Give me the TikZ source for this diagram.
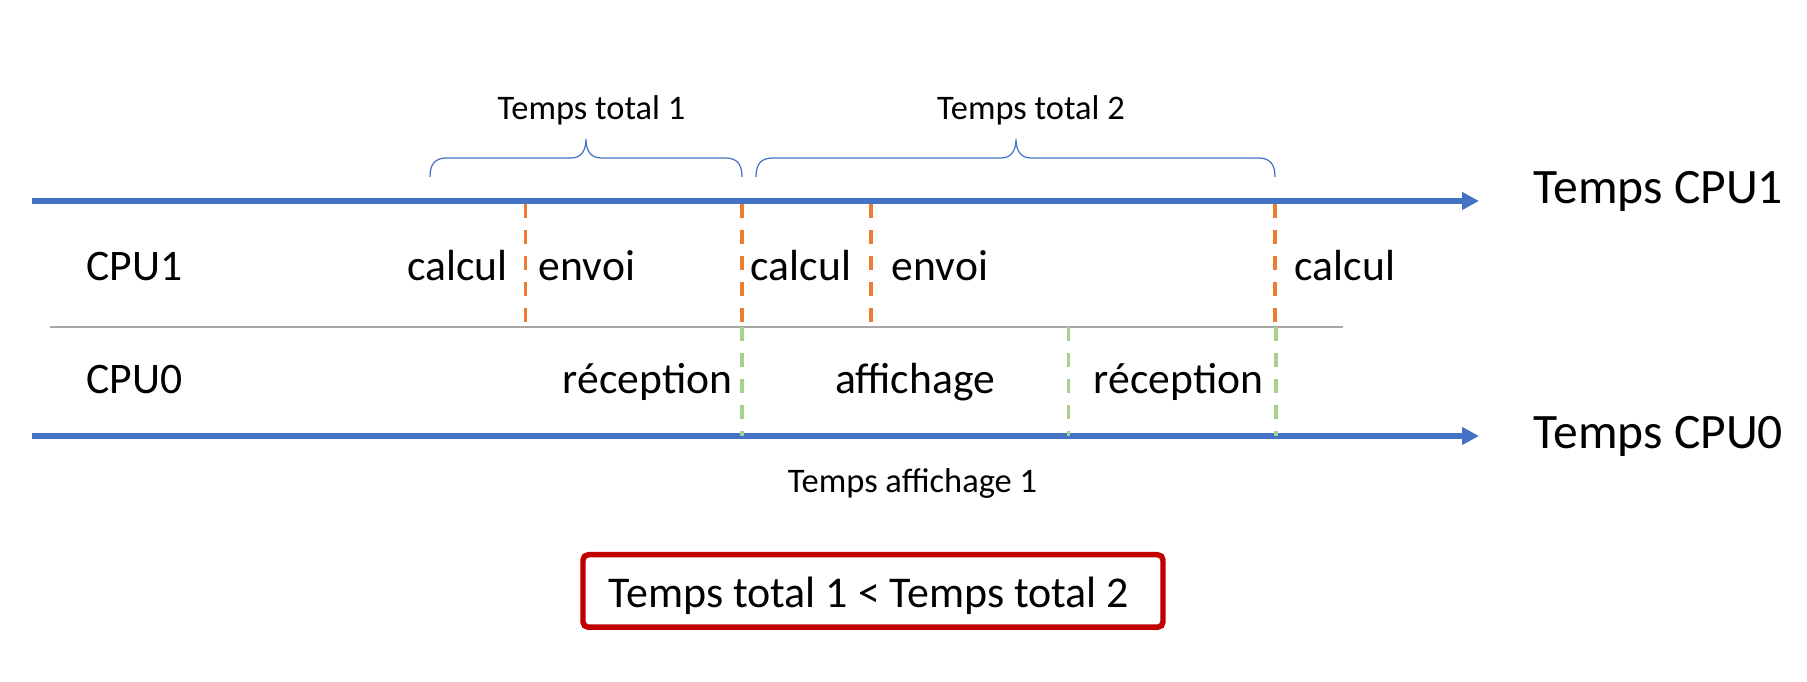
\documentclass[tikz,border=0pt]{standalone}
\usepackage{fontspec}
\setmainfont{Carlito}
\usetikzlibrary{arrows.meta,positioning,calc}
\definecolor{axeblue}{HTML}{4472C4}
\definecolor{cpuorange}{HTML}{ED7D31}
\definecolor{cpugreen}{HTML}{A9D18E}
\definecolor{boxred}{HTML}{C00000}
\definecolor{sepgray}{HTML}{A6A6A6}
% accolade : gauche, pointe, droite
\newcommand{\accolade}[3]{\draw[accol] (#1,177) .. controls (#1,164) and ({#1+5},158) .. ({#1+17},158) -- ({#2-15},158) .. controls ({#2-5},158) and (#2,151) .. (#2,139) .. controls (#2,151) and ({#2+5},158) .. ({#2+15},158) -- ({#3-17},158) .. controls ({#3-5},158) and (#3,164) .. (#3,177);}

\begin{document}
\begin{tikzpicture}[
  x=0.1mm,y=-0.1mm,
  lbl/.style={font=\fontsize{12.4}{14}\selectfont,inner sep=0pt,anchor=base},
  axlbl/.style={font=\fontsize{14.1}{16}\selectfont,inner sep=0pt,anchor=base west},
  small/.style={font=\fontsize{9.8}{12}\selectfont,inner sep=0pt,anchor=base},
  axe/.style={-{Triangle[length=4.8pt,width=4.8pt]},axeblue,line width=1.56pt},
  sep1/.style={cpuorange,line width=1.1pt,dash pattern=on 4pt off 3.4pt},
  sep0/.style={cpugreen,line width=1.1pt,dash pattern=on 4pt off 3.4pt},
  accol/.style={axeblue,line width=0.35pt}
]
\useasboundingbox (0,0) rectangle (1807,682);
% axes de temps
\coordinate (t1s) at (32,201);
\coordinate (t1e) at (1479,201);
\coordinate (t0s) at (32,436);
\coordinate (t0e) at (1479,436);
\draw[axe] (t1s) -- (t1e);
\draw[axe] (t0s) -- (t0e);
\node[axlbl] (cpu1t) at (1533,204) {Temps CPU1};
\node[axlbl] (cpu0t) at (1533,449) {Temps CPU0};
% separation
\coordinate (gs) at (50,327);
\coordinate (ge) at (1343,327);
\draw[sepgray,line width=0.4pt] (gs) -- (ge);
% CPU1
\foreach \x/\n in {525.5/a,742/b,871/c,1275/d}{
  \coordinate (o\n) at (\x,204);
  \coordinate (p\n) at (\x,325);
  \draw[sep1] (o\n) -- (p\n);
}
\node[lbl,anchor=base west] (cpu1) at (86,281) {CPU1};
\node[lbl] (calc1) at (457.5,281) {calcul};
\node[lbl] (env1) at (587,281) {envoi};
\node[lbl] (calc2) at (801,281) {calcul};
\node[lbl] (env2) at (940,281) {envoi};
\node[lbl] (calc3) at (1345,281) {calcul};
% CPU0
\foreach \x/\n in {742/a,1068.5/b,1276/c}{
  \coordinate (g\n) at (\x,327);
  \coordinate (h\n) at (\x,436);
  \draw[sep0] (g\n) -- (h\n);
}
\node[lbl,anchor=base west] (cpu0) at (86,394) {CPU0};
\node[lbl] (rec1) at (647.5,394) {réception};
\node[lbl] (aff) at (915,394) {affichage};
\node[lbl] (rec2) at (1178.5,394) {réception};
% accolades
\accolade{430}{586}{742}
\accolade{756}{1016}{1275}
\node[small] (tt1) at (591.5,120) {Temps total 1};
\node[small] (tt2) at (1031,120) {Temps total 2};
\node[small] (taff) at (912.5,493) {Temps affichage 1};
% conclusion
\node[draw=boxred,line width=1.56pt,rounded corners=1.5pt,minimum width=58mm,minimum height=7.25mm] (cmpbox) at (873,591) {};
\node[lbl,font=\fontsize{12.5}{15}\selectfont] (cmp) at (869,608) {Temps total 1 < Temps total 2};
\end{tikzpicture}
\end{document}
